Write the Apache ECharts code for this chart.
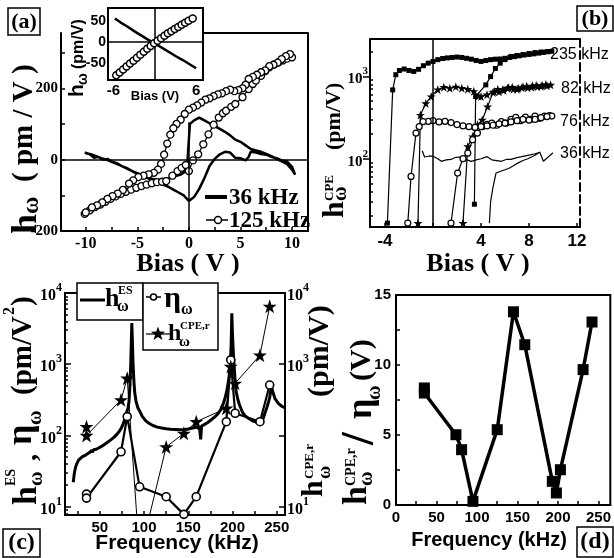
<!DOCTYPE html>
<html>
<head>
<meta charset="utf-8">
<script src="https://cdn.jsdelivr.net/npm/echarts@6/dist/echarts.min.js"></script>
<style>html,body{margin:0;padding:0;background:#fff}#chart{width:614px;height:558px}</style>
</head>
<body>
<div id="chart"></div>
<script>
// panel (a): bias loops [bias V, h pm/V]
const a36 = [[-10.1,20],[-9.6,15],[-9.2,5],[-8.8,8],[-8.3,0],[-7.9,2],[-7.5,-5],[-7,-10],[-6.5,-18],[-6,-25],[-5.5,-32],[-5,-40],[-4.5,-46],[-4,-52],[-3.5,-58],[-3,-64],[-2.5,-70],[-2,-76],[-1.5,-84],[-1,-92],[-0.5,-100],[0,-116],[0.5,-105],[1,-82],[1.5,-52],[2,-18],[2.5,2],[3,15],[3.5,22],[4,20],[4.5,5],[5,4],[5.5,-2],[5.8,8],[6,22],[6.5,20],[7,16],[7.5,14],[8,8],[8.5,4],[9,-2],[9.5,-5],[10,-20],[10.3,-42],
  [10,-28],[9.5,-12],[9,-5],[8.5,2],[8,10],[7.5,16],[7,22],[6.5,26],[6,30],[5.5,40],[5,50],[4.5,56],[4,68],[3.5,78],[3,86],[2.5,94],[2,102],[1.5,110],[1,118],[0.5,110],[0.1,100],[-0.2,-30],[-0.8,-42],[-1.5,-48],[-2,-52],[-2.5,-55],[-3,-57],[-3.5,-54],[-4,-50],[-4.5,-44],[-5,-38],[-5.5,-32],[-6,-24],[-6.5,-18],[-7,-12],[-7.5,-6],[-8,0],[-8.5,4],[-9,10],[-9.5,15],[-10,18]];
const a125 = [[-10.1,-152],[-9.6,-142],[-9.1,-133],[-8.6,-126],[-8.1,-118],[-7.6,-110],[-7.1,-103],[-6.6,-96],[-6.1,-90],[-5.6,-84],[-5.1,-79],[-4.6,-74],[-4.1,-70],[-3.6,-66],[-3.1,-63],[-2.6,-62],[-2.2,-60],[-1.6,-45],[-1.1,-32],[-0.7,-23],[-0.3,-15],[0,-32],[0.4,-2],[0.9,15],[1.4,43],[1.9,71],[2.4,98],[2.9,118],[3.3,130],[3.6,137],[4.1,148],[4.5,156],[5.2,175],[5.8,198],[6.2,212],[6.5,222],[7,235],[7.4,248],[7.8,259],[8.3,267],[8.7,273],[9.1,278],[9.5,283],[10,287],
  [9.8,296],[9.4,290],[9,282],[8.6,272],[8.2,266],[7.8,262],[7.4,250],[7,245],[6.6,238],[6.2,232],[5.8,226],[5.5,210],[5.2,200],[4.8,195],[4.4,192],[4,196],[3.6,192],[3.2,186],[2.8,183],[2.4,178],[2,172],[1.6,168],[1.2,160],[0.8,152],[0.4,146],[0,140],[-0.4,128],[-0.8,112],[-1.2,100],[-1.5,88],[-1.8,70],[-2.1,45],[-2.4,14],[-2.7,-12],[-3,-28],[-3.4,-37],[-3.9,-41],[-4.4,-45],[-4.9,-49],[-5.4,-58],[-5.8,-67],[-6.4,-85],[-6.9,-95],[-7.4,-102],[-7.9,-110],[-8.4,-120],[-8.9,-128],[-9.4,-134],[-10,-148]];
// inset of (a)
const insetLine = [[-5.8,56],[-5,47],[-4,37],[-3,26],[-2,16],[-1,6],[0,-3],[1,-13],[2,-23],[3,-33],[4,-42],[5,-52],[6,-62]];
const insetCirc = [[-5.6,-79],[-5.1,-72],[-4.6,-65],[-4.1,-58],[-3.6,-51],[-3.1,-44],[-2.6,-37],[-2.1,-30],[-1.6,-23],[-1.1,-16],[-0.6,-9],[-0.1,-3],[0.4,3],[0.9,9],[1.4,15],[1.9,21],[2.4,26],[2.9,31],[3.4,36],[3.9,41],[4.4,46],[4.9,51],[5.5,56]];
// panel (b): h_CPE vs bias [V, pm/V]
const b235 = [[3.45,28],[3.55,570],[4.4,790],[4.8,995],[5.2,1250],[5.6,1450],[6,1600],[6.5,1750],[7,1800],[7.5,1850],[8,1900],[8.5,1950],[9,1980],[9.5,2000],[9.9,2020],
  [9.6,2000],[9.2,1960],[8.8,1920],[8.4,1880],[8,1850],[7.6,1820],[7.2,1780],[6.8,1740],[6.4,1700],[6,1660],[5.6,1630],[5.2,1620],[4.8,1600],[4.4,1560],[4,1520],[3.6,1560],[3.2,1620],[2.8,1660],[2.4,1700],[2,1720],[1.6,1700],[1.2,1680],[0.8,1650],[0.4,1600],[0,1520],[-0.4,1450],[-0.8,1350],[-1.2,1220],[-1.6,1150],[-2,1180],[-2.4,1230],[-2.8,1180],[-3.1,1050],[-3.36,686],[-3.8,16.5]];
const b82 = [[2.5,16.5],[2.9,141],[3.3,186],[3.7,258],[4.1,296],[4.55,430],[5,640],[5.4,700],[5.8,690],[6.2,720],[6.6,740],[7,700],[7.4,730],[7.8,760],[8.2,740],[8.6,780],[9,760],[9.4,800],[9.8,790],
  [9.5,770],[9.1,780],[8.7,750],[8.3,770],[7.9,730],[7.5,750],[7.1,720],[6.7,700],[6.3,730],[5.9,680],[5.5,650],[5.1,655],[4.5,600],[4,570],[3.8,580],[3.4,660],[2.9,700],[2.4,720],[1.9,750],[1.4,720],[0.9,740],[0.4,690],[-0.15,570],[-0.6,470],[-1.05,340],[-1.25,16.5]];
const b76 = [[1.5,16.5],[2.05,67],[2.5,100],[2.9,117],[3.3,170],[3.7,205],[4.1,245],[4.5,262],[4.9,270],[5.3,255],[5.7,283],[6.1,270],[6.5,300],[6.9,318],[7.3,290],[7.7,320],[8.1,300],[8.5,330],[8.9,310],[9.3,330],[9.7,335],[9.9,330],
  [9.5,325],[9,315],[8.5,300],[8,295],[7.5,300],[7,290],[6.5,280],[6,270],[5.5,265],[5,255],[4.5,250],[4,245],[3.5,240],[3,245],[2.5,250],[2,260],[1.5,275],[1,285],[0.5,280],[0,290],[-0.4,285],[-0.83,283],[-1.15,246],[-1.42,205],[-1.83,61],[-2.1,16.5]];
const b36 = [[-0.9,125],[-0.7,105],[-0.3,108],[0,107],[0.4,100],[0.7,93],[1.1,97],[1.5,98],[1.9,104],[2.3,105],[2.7,98],[3.2,93],[3.6,97],[4,100],[4.5,106],[4.9,97],[5.3,95],[5.7,93],[6.1,98],[6.5,98],[7,103],[7.4,106],[7.9,110],[8.5,115],[8.9,120],[9.2,93],[9.6,105],[10,118],
  [9.6,105],[9.2,93],[8.9,120],[8.5,110],[7.9,100],[7.5,95],[7.1,89],[6.7,82],[6.3,76],[5.7,71],[5.25,67],[5,45],[4.8,30],[4.7,16.5]];
// panel (c): h_ES spectrum [kHz, pm/V^2]
const esFreq = [20,21,22,23,24,26,28,30,32,34,36,38,40,41,42,43,44,46,48,50,52,54,56,58,60,62,64,66,68,70,72,74,76,78,80,82,83,84,85,85.7,86.2,86.8,87.5,88.5,89.5,91,93,95.5,98,102,106,110,115,120,125,130,135,140,145,150,155,160,162,163,164,165,168,172,176,180,184,187,190,192,194,196,197.5,198.5,199.2,200,201,202.5,204,206,208,211,214,218,222,226,229,232,234,236,239,242,244,246,248,252,256,259];
const esVal = [22,28,33,37,40,45,48,50,52,53,56,57,59,62,58,63,61,64,66,68,71,73,77,79,83,86,90,94,99,106,114,125,140,165,205,245,300,480,1000,2200,3800,2200,1100,600,400,300,245,215,185,160,147,138,131,127,124,122,121,120,121,123,127,131,133,120,88,135,142,152,166,182,205,235,290,350,450,650,950,2000,5200,2500,1400,700,420,320,265,215,190,174,162,155,150,148,165,195,250,340,480,390,330,280,255,245];
// measured frequencies shared by (c) and (d)
const freqs = [35,35,74,81,95,125,145,159,193,198,203,231,242];
const eta = [15,13.2,59,184,19,13.8,7.8,13.8,156,1150,205,156,510];
const hCpe = [133,100,316,635,2,69,107,156,241,930,540,1340,6500];
const ratio = [8.36,8.0,5.02,3.95,0.26,5.38,13.8,11.45,1.69,0.86,2.52,9.67,13.07];

const S = '"Liberation Serif"', A = '"Liberation Sans"';
const fs = n => 'bold ' + n + 'px ' + S;
const fa = n => 'bold ' + n + 'px ' + A;
const STAR = 'path://M50 0 L61.8 35.1 L98.9 35.1 L69 57 L80.9 92 L50 70.5 L19.1 92 L31 57 L1.1 35.1 L38.2 35.1 Z';
const zip = (xs, ys) => xs.map((x, i) => [x, ys[i]]);

const line = {show: true, onZero: false, lineStyle: {color: '#000', width: 2}};
const noLine = {show: false, onZero: false};
const tick = (vals, len, inside) => ({show: true, inside: inside, length: len, customValues: vals, lineStyle: {color: '#000', width: 1.5}});
const lab = (vals, font, size, margin) => ({show: true, customValues: vals, color: '#000', fontFamily: font, fontWeight: 'bold', fontSize: size, margin: margin});
const logLab = (vals, size, margin) => ({
  show: true, customValues: vals, margin: margin,
  formatter: v => '{b|10}{s|' + Math.round(Math.log10(v)) + '}',
  rich: {
    b: {fontFamily: S, fontWeight: 'bold', fontSize: size, color: '#000', verticalAlign: 'top', padding: [6, 0, 0, 0]},
    s: {fontFamily: S, fontWeight: 'bold', fontSize: Math.round(size * 0.72), color: '#000', verticalAlign: 'top'}
  }
});
const off = {show: false};
const minorB = [20,30,40,50,60,70,80,90,200,300,400,500,600,700,800,900,2000];
const minorC = [8,9,20,30,40,50,60,70,80,90,200,300,400,500,600,700,800,900,2000,3000,4000,5000,6000,7000,8000,9000];
const mark = data => ({silent: true, symbol: ['none', 'none'], label: off, lineStyle: {color: '#000', width: 1.5, type: 'solid'}, data: data});

// graphic helpers
const T = (x, y, text, font, align) => ({type: 'text', x: x, y: y, z: 60, style: {text: text, font: font, fill: '#000', align: align || 'left', verticalAlign: 'middle'}});
const L = (x1, y1, x2, y2, w) => ({type: 'line', z: 60, shape: {x1: x1, y1: y1, x2: x2, y2: y2}, style: {stroke: '#000', lineWidth: w || 1.5}});
const Box = (x, y, w, h) => ({type: 'rect', z: 55, shape: {x: x, y: y, width: w, height: h}, style: {fill: '#fff', stroke: '#000', lineWidth: 1.5}});
const Rot = (x, y, kids) => ({type: 'group', x: x, y: y, rotation: Math.PI / 2, z: 60,
  children: kids.map(k => ({type: 'text', x: k[0], y: k[1], z: 60, style: {text: k[2], font: k[3], fill: '#000', align: 'left', verticalAlign: 'bottom'}}))});
function starPts(cx, cy, R, r) {
  const p = [];
  for (let i = 0; i < 10; i++) {
    const a = -Math.PI / 2 + i * Math.PI / 5, d = i % 2 ? r : R;
    p.push([cx + d * Math.cos(a), cy + d * Math.sin(a)]);
  }
  return p;
}

const graphics = [
  // (a)
  Box(8, 8, 32, 27), T(24, 22, '(a)', fs(22), 'center'),
  L(203, 33, 308, 33, 2),
  Rot(0, 234, [[0, 45, 'h', fs(36)], [20, 44, 'ω', fs(24)], [52, 39, '( pm / V )', fs(29)]]),
  T(188, 264, 'Bias ( V )', fs(26), 'center'),
  L(205, 197, 227, 197, 4), T(229, 198, '36 kHz', fs(23)),
  L(206, 220, 228, 220, 1.5),
  {type: 'circle', z: 61, shape: {cx: 218, cy: 220, r: 3.5}, style: {fill: '#fff', stroke: '#000', lineWidth: 1.5}},
  T(229, 221, '125 kHz', fs(23)),
  Rot(62, 97, [[0, 26, 'h', fa(21)], [12, 28, 'ω', fa(14)], [28, 25, '(pm/V)', fa(16)]]),
  T(155, 96, 'Bias (V)', fa(13), 'center'),
  // (b)
  Box(577, 6, 36, 25), T(595, 19, '(b)', fs(22), 'center'),
  L(370, 39, 580, 39, 2),
  T(478, 264, 'Bias ( V )', fs(26), 'center'),
  Rot(300, 218, [[0, 50, 'h', fs(30)], [17, 36, 'CPE', fs(13)], [17, 51, 'ω', fs(20)], [68, 45, '(pm/V)', fs(22)]]),
  T(550, 55, '235 kHz', '16px ' + A), T(561, 89, '82 kHz', '16px ' + A),
  T(560, 122, '76 kHz', '16px ' + A), T(560, 154, '36 kHz', '16px ' + A),
  // (c)
  Box(77, 283, 66, 37), Box(143, 283, 75, 67),
  L(80, 300, 105, 300, 3),
  T(105, 299, 'h', fs(26)), T(118, 291, 'ES', fs(12)), T(117, 307, 'ω', fs(16)),
  L(146, 297, 161, 297, 1.5),
  {type: 'circle', z: 61, shape: {cx: 153.5, cy: 297, r: 3}, style: {fill: '#fff', stroke: '#000', lineWidth: 1.5}},
  T(164, 299, 'η', fs(30)), T(181, 310, 'ω', fs(16)),
  L(146, 334, 170, 334, 1.2),
  {type: 'polygon', z: 61, shape: {points: starPts(158, 334, 7.5, 3)}, style: {fill: '#000'}},
  T(168, 334, 'h', fs(24)), T(180, 326, 'CPE,r', fs(11)), T(179, 342, 'ω', fs(15)),
  Rot(0, 505, [[0, 44, 'h', fs(34)], [19, 18, 'ES', fs(14)], [19, 47, 'ω', fs(20)], [44, 43, ',', fs(28)],
    [60, 40, 'η', fs(36)], [80, 46, 'ω', fs(20)], [110, 38, '(pm/V', fs(29)], [190, 18, '2', fs(16)], [199, 38, ')', fs(29)]]),
  Rot(0, 497, [[0, 329, 'h', fs(30)], [18, 316, 'CPE,r', fs(13)], [18, 334, 'ω', fs(18)], [100, 335, '(pm/V)', fs(30)]]),
  T(177, 543, 'Frequency (kHz)', fa(21), 'center'),
  Box(3, 529, 37, 28), T(21.5, 543, '(c)', fs(24), 'center'),
  // (d)
  Rot(0, 505, [[0, 374, 'h', fs(34)], [19, 358, 'CPE,r', fs(14)], [19, 377, 'ω', fs(20)], [60, 384, '/', fs(46)],
    [86, 380, 'η', fs(36)], [105, 385, 'ω', fs(20)], [124, 377, '(V)', fs(30)]]),
  T(489, 540, 'Frequency (kHz)', fa(20), 'center'),
  Box(577, 527, 36, 30), T(595, 542, '(d)', fs(24), 'center')
];

const chart = echarts.init(document.getElementById('chart'));
chart.setOption({
  animation: false,
  backgroundColor: '#fff',
  grid: [
    {left: 61, top: 33, width: 247, height: 198},
    {left: 108, top: 8, width: 95, height: 72, show: true, borderColor: '#000', borderWidth: 2, backgroundColor: '#fff', z: 3},
    {left: 370, top: 39, width: 210, height: 188},
    {left: 65, top: 293, width: 220, height: 222, show: true, borderColor: '#000', borderWidth: 2},
    {left: 396, top: 295, width: 217, height: 210, show: true, borderColor: '#000', borderWidth: 2},
    // twin of (b) that only carries the log tick labels
    {left: 370, top: 39, width: 210, height: 188}
  ],
  xAxis: [
    {gridIndex: 0, type: 'value', min: -12.4, max: 11.55, axisLine: line, splitLine: off,
      axisTick: tick([-10,-7.5,-5,-2.5,0,2.5,5,7.5,10], 4, true), axisLabel: lab([-10,-5,0,5,10], S, 16, 5)},
    {gridIndex: 1, type: 'value', min: -6.8, max: 7, axisLine: line, splitLine: off, z: 4,
      axisTick: off, axisLabel: lab([-6, 6], A, 15, 3)},
    {gridIndex: 2, type: 'value', min: -5.25, max: 12.25, axisLine: line, splitLine: off,
      axisTick: tick([-4,0,4,8,12], 4, true), axisLabel: lab([-4,4,8,12], A, 17, 6)},
    {gridIndex: 3, type: 'value', min: 10.7, max: 259.3, axisLine: line, splitLine: off,
      axisTick: tick([25,50,75,100,125,150,175,200,225,250], 4, true), axisLabel: lab([50,100,150,200,250], A, 15, 5)},
    {gridIndex: 4, type: 'value', min: 0, max: 264.6, axisLine: line, splitLine: off,
      axisTick: tick([0,25,50,75,100,125,150,175,200,225,250], 4, true), axisLabel: lab([0,50,100,150,200,250], A, 15, 5)},
    {gridIndex: 5, type: 'value', min: 1, max: 2, show: false}
  ],
  yAxis: [
    {gridIndex: 0, type: 'value', position: 'left', min: -200, max: 355, axisLine: line, splitLine: off,
      axisTick: tick([-200,-100,0,100,200,300], 4, true), axisLabel: lab([-200,0,200], S, 15, 3)},
    {gridIndex: 0, type: 'value', position: 'right', min: -200, max: 355, axisLine: line, splitLine: off, axisTick: off, axisLabel: off},
    {gridIndex: 1, type: 'value', position: 'left', min: -90, max: 81, axisLine: line, splitLine: off, z: 4,
      axisTick: off, axisLabel: lab([-50,0,50], A, 14, 2)},
    {gridIndex: 2, type: 'log', position: 'left', min: 14.8, max: 2850, axisLine: line, splitLine: off,
      axisTick: tick(minorB, 3, true), axisLabel: off},
    {gridIndex: 2, type: 'log', position: 'right', min: 14.8, max: 2850, splitLine: off, axisTick: off, axisLabel: off,
      axisLine: {show: true, onZero: false, lineStyle: {color: '#000', width: 2, type: [8, 4]}}},
    {gridIndex: 3, type: 'log', position: 'left', min: 7.64, max: 10000, axisLine: line, splitLine: off,
      axisTick: tick([10,100,1000,10000], 6, true), axisLabel: logLab([10,100,1000,10000], 16, 3)},
    {gridIndex: 3, type: 'log', position: 'left', min: 7.64, max: 10000, axisLine: noLine, splitLine: off,
      axisTick: tick(minorC, 3, true), axisLabel: off},
    {gridIndex: 3, type: 'log', position: 'right', min: 7.64, max: 10000, axisLine: line, splitLine: off,
      axisTick: tick([10,100,1000,10000], 6, true), axisLabel: logLab([10,1000,10000], 16, 2)},
    {gridIndex: 4, type: 'value', position: 'left', min: 0, max: 15, axisLine: line, splitLine: off,
      axisTick: tick([0,2.5,5,7.5,10,12.5,15], 4, true), axisLabel: lab([0,5,10,15], A, 15, 5)},
    {gridIndex: 5, type: 'log', position: 'left', min: 14.8, max: 2850, axisLine: noLine, splitLine: off,
      axisTick: tick([100, 1000], 7, false), axisLabel: logLab([100, 1000], 15, 2)}
  ],
  series: [
    {type: 'line', xAxisIndex: 0, yAxisIndex: 0, data: a36, showSymbol: false, lineStyle: {color: '#000', width: 2.5},
      markLine: mark([{yAxis: 0}, [{coord: [0, -200]}, {coord: [0, 105]}]])},
    {type: 'line', xAxisIndex: 0, yAxisIndex: 0, data: a125, symbol: 'circle', symbolSize: 7,
      itemStyle: {color: '#fff', borderColor: '#000', borderWidth: 1.3}, lineStyle: {color: '#000', width: 1.3}},
    {type: 'line', xAxisIndex: 1, yAxisIndex: 2, data: insetLine, showSymbol: false, z: 5, lineStyle: {color: '#000', width: 2.5},
      markLine: mark([{yAxis: 0}, {xAxis: 0}])},
    {type: 'line', xAxisIndex: 1, yAxisIndex: 2, data: insetCirc, symbol: 'circle', symbolSize: 7, z: 5,
      itemStyle: {color: '#fff', borderColor: '#000', borderWidth: 1.5}, lineStyle: {color: '#000', width: 1.3}},
    {type: 'line', xAxisIndex: 2, yAxisIndex: 3, data: b235, symbol: 'rect', symbolSize: 5,
      itemStyle: {color: '#000'}, lineStyle: {color: '#000', width: 1.2}, markLine: mark([{xAxis: 0}])},
    {type: 'line', xAxisIndex: 2, yAxisIndex: 3, data: b82, symbol: STAR, symbolSize: 9,
      itemStyle: {color: '#000'}, lineStyle: {color: '#000', width: 1.2}},
    {type: 'line', xAxisIndex: 2, yAxisIndex: 3, data: b76, symbol: 'circle', symbolSize: 6,
      itemStyle: {color: '#fff', borderColor: '#000', borderWidth: 1.2}, lineStyle: {color: '#000', width: 1.2}},
    {type: 'line', xAxisIndex: 2, yAxisIndex: 3, data: b36, showSymbol: false, lineStyle: {color: '#000', width: 1.2}},
    {type: 'line', xAxisIndex: 3, yAxisIndex: 5, data: zip(esFreq, esVal), showSymbol: false, lineStyle: {color: '#000', width: 3}},
    {type: 'line', xAxisIndex: 3, yAxisIndex: 5, data: zip(freqs, eta), symbol: 'circle', symbolSize: 8,
      itemStyle: {color: '#fff', borderColor: '#000', borderWidth: 1.6}, lineStyle: {color: '#000', width: 2.2}},
    {type: 'line', xAxisIndex: 3, yAxisIndex: 7, data: zip(freqs, hCpe), symbol: STAR, symbolSize: 14,
      itemStyle: {color: '#000'}, lineStyle: {color: '#000', width: 1}},
    {type: 'line', xAxisIndex: 4, yAxisIndex: 8, data: zip(freqs, ratio), symbol: 'rect', symbolSize: 11,
      itemStyle: {color: '#000'}, lineStyle: {color: '#000', width: 3.5}}
  ],
  graphic: graphics
});
</script>
</body>
</html>
